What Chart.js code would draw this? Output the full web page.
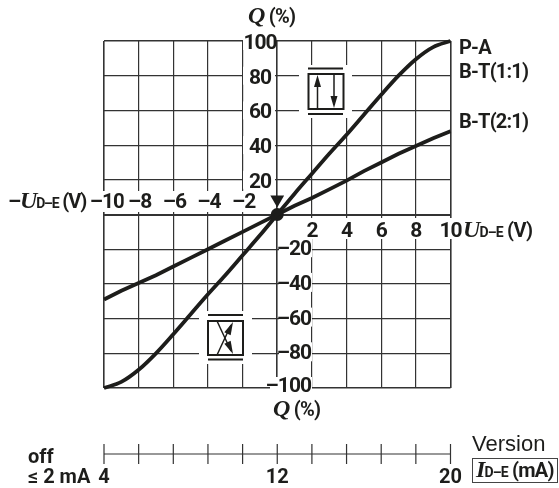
<!DOCTYPE html>
<html>
<head>
<meta charset="utf-8">
<title>Positioner characteristic</title>
<script src="https://cdn.jsdelivr.net/npm/chart.js@4"></script>
<style>
    html, body { margin: 0; padding: 0; background: #fff; }
    canvas { display: block; }
</style>
</head>
<body>
<canvas id="chart" width="559" height="488"></canvas>
<script>
// values
const voltage    = [-10, -9, -8, -7, -6, -5, -4, -3, -2, -1, 0, 1, 2, 3, 4, 5, 6, 7, 8, 9, 10];
const flowPA     = [-100, -96.5, -89.5, -80, -69, -57.5, -46, -35, -23.5, -12, 0, 12, 23.5, 35, 46, 57.5, 69, 80, 89.5, 96.5, 100];
const flowBT21   = [-49, -44, -39.5, -35, -30, -25, -20, -15, -10, -5, 0, 5, 9.5, 14.5, 19.5, 25, 30, 35, 39.5, 44, 48];
const xNegTicks  = [-10, -8, -6, -4, -2];
const xPosTicks  = [2, 4, 6, 8, 10];
const yPosTicks  = [20, 40, 60, 80, 100];
const yNegTicks  = [-20, -40, -60, -80, -100];
const mATicks    = [4, 5.6, 7.2, 8.8, 10.4, 12, 13.6, 15.2, 16.8, 18.4, 20];
const mALabels   = [4, 12, 20];
const originDot  = [0, 0];
const arrowPoint = [0, 8.6];

const BOLD   = 'bold 21px Roboto';
const TEXT   = 'bold 20px Roboto';
const SMALL  = 'bold 14px Roboto';
const SYMBOL = 'italic bold 24px "Liberation Serif"';
const INK    = "#1d1d1b";

function toPoints(xs, ys) {
    return xs.map((x, i) => ({ x, y: ys[i] }));
}

function runs(ctx, x, y, parts, spacing = "-0.8px") {
    ctx.textAlign = "left";
    ctx.textBaseline = "alphabetic";
    ctx.letterSpacing = spacing;
    for (const [text, font] of parts) {
        ctx.font = font;
        ctx.fillText(text, x, y);
        x += ctx.measureText(text).width;
    }
    ctx.letterSpacing = "0px";
}

function halo(ctx, x0, y0, x1, y1) {
    ctx.fillStyle = "#fff";
    ctx.fillRect(x0, y0, x1 - x0, y1 - y0);
    ctx.fillStyle = INK;
}

function arrowHead(ctx, tipX, tipY, angle, len, wid) {
    ctx.save();
    ctx.translate(tipX, tipY);
    ctx.rotate(angle);
    ctx.beginPath();
    ctx.moveTo(0, 0);
    ctx.lineTo(-len, wid / 2);
    ctx.lineTo(-len, -wid / 2);
    ctx.closePath();
    ctx.fill();
    ctx.restore();
}

function seg(ctx, x0, y0, x1, y1) {
    ctx.beginPath();
    ctx.moveTo(x0, y0);
    ctx.lineTo(x1, y1);
    ctx.stroke();
}

// tick labels, valve symbols and captions, under the curves
const annotations = {
    id: "annotations",
    beforeDatasetsDraw(chart) {
        const { ctx, scales: { x, y, mA } } = chart;
        ctx.save();
        ctx.fillStyle = INK;
        ctx.strokeStyle = INK;
        ctx.textBaseline = "alphabetic";
        ctx.font = BOLD;
        ctx.letterSpacing = "-1px";

        // x tick labels
        for (const v of xNegTicks) {
            const px = x.getPixelForValue(v);
            halo(ctx, px - 15, 191, px + 20, 212);
            ctx.textAlign = "center";
            ctx.fillText("–" + Math.abs(v), px + (v === -10 ? 3 : 1), 208);
        }
        for (const v of xPosTicks) {
            const px = x.getPixelForValue(v);
            halo(ctx, px - 10, 218, px + 10, 239);
            ctx.fillText(String(v), px, 237);
        }

        // y tick labels
        for (const v of yPosTicks) {
            const py = y.getPixelForValue(v);
            halo(ctx, 243, py - 9, 275, py + 9);
            ctx.textAlign = "center";
            ctx.fillText(String(v), 260, py + 8);
        }
        for (const v of yNegTicks) {
            const py = y.getPixelForValue(v);
            const up = v === -100 ? 3 : 1;
            halo(ctx, v === -100 ? 270 : 279, py - 11, 312, py + 8);
            ctx.textAlign = "right";
            ctx.fillText("–" + Math.abs(v), 311, py + 7 - up);
        }
        ctx.letterSpacing = "0px";

        // axis captions
        runs(ctx, 8, 208, [["–", BOLD], ["U", SYMBOL], ["D–E", SMALL], [" (V)", TEXT]], "-1.2px");
        runs(ctx, 463, 237, [["U", SYMBOL], ["D–E", SMALL], [" (V)", TEXT]]);
        runs(ctx, 248, 23, [["Q", SYMBOL], [" (%)", TEXT]]);
        runs(ctx, 273, 416, [["Q", SYMBOL], [" (%)", TEXT]]);

        // curve names
        runs(ctx, 459, 54, [["P-A", TEXT]]);
        runs(ctx, 459, 78, [["B-T(1:1)", TEXT]]);
        runs(ctx, 459, 128, [["B-T(2:1)", TEXT]]);

        // valve symbol, straight through
        halo(ctx, 299, 65, 352, 118);
        ctx.lineWidth = 2;
        ctx.strokeRect(308.5, 74, 35, 35);
        seg(ctx, 308, 68.5, 343, 68.5);
        seg(ctx, 308, 114, 343, 114);
        ctx.lineWidth = 1.5;
        seg(ctx, 317.5, 109, 317.5, 84);
        seg(ctx, 334, 74, 334, 98);
        arrowHead(ctx, 317.5, 75, -Math.PI / 2, 12, 7);
        arrowHead(ctx, 334, 108, Math.PI / 2, 12, 7);

        // valve symbol, crossed
        halo(ctx, 199, 311, 252, 364);
        ctx.lineWidth = 2;
        ctx.strokeRect(208, 321, 35, 34);
        seg(ctx, 208, 315, 243, 315);
        seg(ctx, 208, 359.5, 243, 359.5);
        ctx.lineWidth = 1.5;
        seg(ctx, 217, 321, 231, 351);
        seg(ctx, 217, 355, 231, 325);
        arrowHead(ctx, 233, 354, Math.atan2(30, 14), 13, 7);
        arrowHead(ctx, 233, 322, Math.atan2(-30, 14), 13, 7);

        // current scale below the chart
        const axisY = 454;
        ctx.lineWidth = 1.2;
        ctx.strokeStyle = "#333";
        seg(ctx, mA.getPixelForValue(4), axisY, mA.getPixelForValue(20), axisY);
        for (const v of mATicks) {
            const px = mA.getPixelForValue(v);
            seg(ctx, px, axisY - 10, px, axisY + 10);
        }
        ctx.font = TEXT;
        ctx.textAlign = "center";
        for (const v of mALabels) {
            ctx.fillText(String(v), mA.getPixelForValue(v), 483);
        }
        runs(ctx, 28, 463, [["off", TEXT]], "0px");
        runs(ctx, 28, 483, [["≤ 2 mA", TEXT]], "0px");

        runs(ctx, 472, 451, [["Version", '22px "Liberation Sans"']], "0px");
        ctx.lineWidth = 1;
        ctx.strokeStyle = "#444";
        ctx.strokeRect(472.5, 458.5, 85, 24);
        runs(ctx, 476, 477, [["I", SYMBOL], ["D–E", SMALL], [" (mA)", TEXT]]);
        ctx.restore();
    }
};

new Chart(document.getElementById("chart"), {
    type: "line",
    data: {
        datasets: [
            { label: "P-A / B-T(1:1)", data: toPoints(voltage, flowPA),
              borderColor: INK, borderWidth: 3.8, pointRadius: 0, cubicInterpolationMode: "monotone", clip: false },
            { label: "B-T(2:1)", data: toPoints(voltage, flowBT21),
              borderColor: INK, borderWidth: 3.8, pointRadius: 0, clip: false },
            { label: "origin", data: [{ x: originDot[0], y: originDot[1] }], showLine: false,
              pointRadius: 6.5, pointBackgroundColor: INK, pointBorderWidth: 0 },
            { label: "arrow", data: [{ x: arrowPoint[0], y: arrowPoint[1] }], showLine: false,
              pointStyle: "triangle", pointRotation: 180, pointRadius: 8,
              pointBackgroundColor: INK, pointBorderWidth: 0 }
        ]
    },
    options: {
        responsive: false,
        animation: false,
        devicePixelRatio: 1,
        layout: { padding: { left: 104, right: 108.5, top: 41, bottom: 100 } },
        plugins: { legend: { display: false }, tooltip: { enabled: false } },
        scales: {
            x: {
                type: "linear", min: -10, max: 10,
                ticks: { display: false, stepSize: 2 },
                grid: {
                    drawTicks: false, color: "#333",
                    lineWidth: c => (c.tick && (c.tick.value === 0 || Math.abs(c.tick.value) === 10)) ? 1.6 : 1.2
                },
                border: { display: false }
            },
            y: {
                type: "linear", min: -100, max: 100,
                ticks: { display: false, stepSize: 20 },
                grid: {
                    drawTicks: false, color: "#333",
                    lineWidth: c => (c.tick && c.tick.value === 0) ? 2 : (c.tick && Math.abs(c.tick.value) === 100) ? 1.6 : 1.2
                },
                border: { display: false }
            },
            mA: {
                type: "linear", axis: "x", position: "bottom", min: 4, max: 20, display: false
            }
        }
    },
    plugins: [annotations]
});
</script>
</body>
</html>
